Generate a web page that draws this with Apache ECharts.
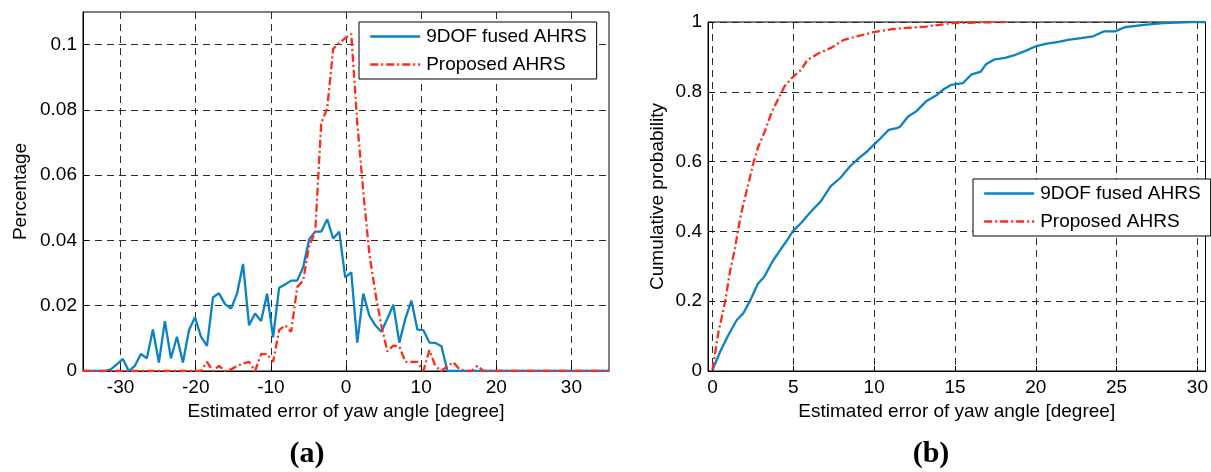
<!DOCTYPE html>
<html>
<head>
<meta charset="utf-8">
<script src="https://cdn.jsdelivr.net/npm/echarts@6/dist/echarts.min.js"></script>
<style>
html,body{margin:0;padding:0;background:#fff;}
#chart{width:1211px;height:472px;}
</style>
</head>
<body>
<div id="chart"></div>
<script>
// ---- (a) histogram of yaw error ----
const histX9dof = [-35, -32.1, -31.3, -30.5, -29.7, -28.9, -28.1, -27.3, -26.5, -25.7,
  -24.9, -24.1, -23.3, -22.5, -21.7, -20.9, -20.1, -19.3, -18.5, -17.7,
  -16.9, -16.1, -15.3, -14.5, -13.7, -12.9, -12.1, -11.3, -10.5, -9.7,
  -8.9, -8.1, -7.3, -6.5, -5.7, -4.9, -4.1, -3.3, -2.5, -1.7,
  -0.9, -0.1, 0.7, 1.5, 2.3, 3.1, 3.9, 4.7, 5.5, 6.3,
  7.1, 7.9, 8.7, 9.5, 10.3, 11.1, 11.9, 12.7, 13.5, 35];
const histY9dof = [0, 0, 0.0005, 0.002, 0.0037, 0, 0.0016, 0.0052, 0.0039, 0.0127,
  0.0026, 0.0153, 0.0039, 0.0105, 0.0026, 0.0125, 0.0165, 0.0105, 0.0077, 0.0226,
  0.0238, 0.0205, 0.0191, 0.0237, 0.0328, 0.014, 0.0176, 0.0153, 0.0237, 0.0103,
  0.0255, 0.0265, 0.0277, 0.0277, 0.0318, 0.0404, 0.0427, 0.0427, 0.0465, 0.0406,
  0.0427, 0.0287, 0.0302, 0.0087, 0.0237, 0.017, 0.014, 0.012, 0.016, 0.0203,
  0.0087, 0.016, 0.0216, 0.0127, 0.0125, 0.0087, 0.0086, 0.0076, 0, 0];
const histXProp = [-35, -19.3, -18.5, -17.7, -16.9, -16.1, -15.3, -14.5, -13.7, -12.9,
  -12.1, -11.3, -10.5, -9.7, -8.9, -8.1, -7.3, -6.5, -5.7, -4.9,
  -4.1, -3.3, -2.5, -1.7, -0.9, -0.1, 0.7, 1.5, 2.3, 3.1,
  3.9, 4.7, 5.5, 6.3, 7.1, 7.9, 8.7, 9.5, 10.3, 11.1,
  11.9, 12.7, 13.5, 14.3, 15.1, 15.9, 16.7, 17.5, 18.3, 35];
const histYProp = [0, 0, 0.0028, 0, 0.0016, 0, 0.0005, 0.0015, 0.0023, 0.0028,
  0, 0.0052, 0.0052, 0.0028, 0.0125, 0.014, 0.012, 0.0257, 0.0277, 0.0385,
  0.0425, 0.0759, 0.0805, 0.0987, 0.1005, 0.102, 0.1033, 0.076, 0.055, 0.036,
  0.024, 0.014, 0.006, 0.0078, 0.0075, 0.0028, 0.0028, 0.0028, 0, 0.0064,
  0.0015, 0, 0.0015, 0.0027, 0.0005, 0, 0, 0.0016, 0, 0];
const histXTicks = [-30, -20, -10, 0, 10, 20, 30];
const histYTicks = [0, 0.02, 0.04, 0.06, 0.08, 0.1];

// ---- (b) cumulative probability ----
const cdfX9dof = [0, 0.47, 0.98, 1.5, 1.9, 2.3, 2.8, 3.2, 3.7, 4.15,
  4.56, 4.96, 5.48, 6.09, 6.7, 7.3, 7.9, 8.5, 9.05, 9.56,
  9.97, 10.4, 10.9, 11.4, 11.6, 12.1, 12.6, 13.2, 13.85, 14.26,
  14.77, 15.5, 16.0, 16.6, 16.9, 17.4, 18.1, 18.75, 19.4, 19.97,
  20.6, 21.4, 22.0, 22.8, 23.55, 24.2, 24.9, 25.5, 26.7, 27.9,
  29.6, 30.5];
const cdfY9dof = [0.003, 0.055, 0.103, 0.146, 0.165, 0.199, 0.249, 0.27, 0.313, 0.344,
  0.371, 0.40, 0.424, 0.457, 0.486, 0.529, 0.553, 0.586, 0.61, 0.629,
  0.648, 0.667, 0.691, 0.696, 0.70, 0.729, 0.744, 0.772, 0.79, 0.806,
  0.82, 0.825, 0.849, 0.858, 0.878, 0.892, 0.897, 0.906, 0.918, 0.93,
  0.937, 0.943, 0.949, 0.954, 0.959, 0.973, 0.973, 0.985, 0.992, 0.997,
  1.0, 1.0];
const cdfXProp = [0, 0.17, 0.37, 0.58, 0.78, 1.08, 1.39, 1.6, 1.8, 2.1,
  2.5, 2.8, 3.23, 3.64, 4.04, 4.45, 4.9, 5.48, 5.88, 6.6,
  7.3, 8.13, 8.95, 9.97, 11.2, 13.2, 14.9, 18.1];
const cdfYProp = [0.003, 0.055, 0.113, 0.156, 0.199, 0.285, 0.352, 0.41, 0.457, 0.514,
  0.591, 0.639, 0.686, 0.739, 0.777, 0.815, 0.839, 0.863, 0.892, 0.911,
  0.925, 0.949, 0.959, 0.971, 0.980, 0.987, 0.997, 1.0];
const cdfXTicks = [0, 5, 10, 15, 20, 25, 30];
const cdfYTicks = [0, 0.2, 0.4, 0.6, 0.8, 1];

const seriesNames = ['9DOF fused AHRS', 'Proposed AHRS'];
const xTitle = 'Estimated error of yaw angle [degree]';

const BLUE = '#0a82c4';
const RED = '#ff2a1a';
const FONT = 'Liberation Sans';
const FS = 19;

function zip(xs, ys) { return xs.map((x, i) => [x, ys[i]]); }

const gridLine = { show: true, lineStyle: { color: '#2a2a2a', width: 1, type: [7, 5] } };

function xAxisCfg(gridIndex, min, max, ticks) {
  return {
    type: 'value', gridIndex, min, max,
    name: xTitle, nameLocation: 'middle', nameGap: 31,
    nameTextStyle: { fontFamily: FONT, fontSize: FS, color: '#000' },
    axisLine: { show: true, onZero: false, lineStyle: { color: '#000', width: 1 } },
    axisTick: { show: true, inside: true, length: 5, customValues: ticks, lineStyle: { color: '#000' } },
    axisLabel: { customValues: ticks, fontFamily: FONT, fontSize: FS, color: '#000', margin: 7 },
    splitLine: gridLine
  };
}
function yAxisCfg(gridIndex, min, max, ticks, name, gap) {
  return {
    type: 'value', gridIndex, min, max,
    name, nameLocation: 'middle', nameGap: gap,
    nameTextStyle: { fontFamily: FONT, fontSize: FS, color: '#000' },
    axisLine: { show: true, onZero: false, lineStyle: { color: '#000', width: 1 } },
    axisTick: { show: true, inside: true, length: 5, customValues: ticks, lineStyle: { color: '#000' } },
    axisLabel: { customValues: ticks, fontFamily: FONT, fontSize: FS, color: '#000', margin: 6 },
    splitLine: gridLine
  };
}
function legendCfg(left, top) {
  return {
    left, top, orient: 'vertical',
    data: seriesNames,
    backgroundColor: '#fff', borderColor: '#000', borderWidth: 1,
    padding: [5, 10, 5, 10], itemGap: 9, itemWidth: 50, itemHeight: 19,
    itemStyle: { opacity: 0, borderWidth: 0 },
    lineStyle: { width: 2.3 },
    textStyle: { fontFamily: FONT, fontSize: FS, color: '#000', padding: [0, 0, 0, 1] },
    selectedMode: false
  };
}

const chart = echarts.init(document.getElementById('chart'), null, { renderer: 'canvas' });
chart.setOption({
  backgroundColor: '#fff',
  animation: false,
  grid: [
    { left: 83, top: 12, width: 526, height: 359, show: true, borderColor: '#000', borderWidth: 1, backgroundColor: 'transparent' },
    { left: 708, top: 22, width: 502, height: 349, show: true, borderColor: '#000', borderWidth: 1, backgroundColor: 'transparent' }
  ],
  xAxis: [
    xAxisCfg(0, -35, 35, histXTicks),
    xAxisCfg(1, -0.28, 30.5, cdfXTicks)
  ],
  yAxis: [
    yAxisCfg(0, 0, 0.11, histYTicks, 'Percentage', 53),
    yAxisCfg(1, 0, 1, cdfYTicks, 'Cumulative probability', 41)
  ],
  legend: [legendCfg(359, 22), legendCfg(973, 179)],
  series: [
    { name: seriesNames[0], type: 'line', xAxisIndex: 0, yAxisIndex: 0, data: zip(histX9dof, histY9dof),
      symbol: 'none', lineStyle: { color: BLUE, width: 2.3 }, itemStyle: { color: BLUE }, z: 3 },
    { name: seriesNames[1], type: 'line', xAxisIndex: 0, yAxisIndex: 0, data: zip(histXProp, histYProp),
      symbol: 'none', lineStyle: { color: RED, width: 2.3, type: [8, 3, 2, 3] }, itemStyle: { color: RED }, z: 4 },
    { name: seriesNames[0], type: 'line', xAxisIndex: 1, yAxisIndex: 1, data: zip(cdfX9dof, cdfY9dof),
      symbol: 'none', lineStyle: { color: BLUE, width: 2.3 }, itemStyle: { color: BLUE }, z: 3 },
    { name: seriesNames[1], type: 'line', xAxisIndex: 1, yAxisIndex: 1, data: zip(cdfXProp, cdfYProp),
      symbol: 'none', lineStyle: { color: RED, width: 2.3, type: [8, 3, 2, 3] }, itemStyle: { color: RED }, z: 4 }
  ],
  graphic: [
    { type: 'text', x: 307, y: 454, style: { text: '(a)', font: 'bold 30px "Liberation Serif"', fill: '#000', align: 'center', verticalAlign: 'middle', textAlign: 'center', textVerticalAlign: 'middle' } },
    { type: 'text', x: 931, y: 454, style: { text: '(b)', font: 'bold 30px "Liberation Serif"', fill: '#000', align: 'center', verticalAlign: 'middle', textAlign: 'center', textVerticalAlign: 'middle' } }
  ]
});
</script>
</body>
</html>
